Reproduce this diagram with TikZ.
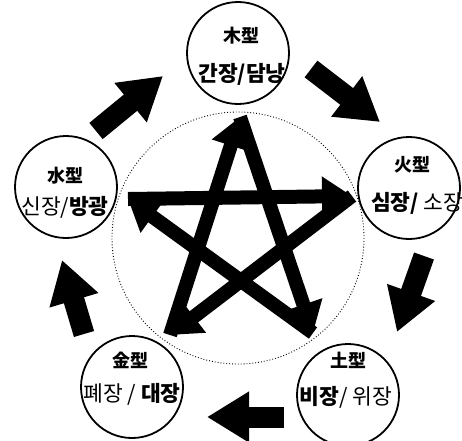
\documentclass[tikz,border=0pt]{standalone}
\usepackage{fontspec}
\newfontfamily\kr{Noto Sans CJK KR}
\usetikzlibrary{arrows.meta}
\begin{document}
\begin{tikzpicture}[x=1pt,y=-1pt,
  elem/.style={circle,draw,fill=white,line width=1.8pt,minimum size=102pt,inner sep=0pt},
  headtxt/.style={inner sep=0pt,font=\kr\bfseries\fontsize{18}{18}\selectfont},
  organ/.style={inner sep=0pt,font=\kr\fontsize{21.5}{22}\selectfont},
  starline/.style={line width=14pt,-{Triangle[length=30pt,width=38pt]}},
  flow/.style={line width=21pt,-{Triangle[length=42pt,width=48pt]}}]
\useasboundingbox (0,0) rectangle (462,440);
% big dotted circle
\draw[dotted,line width=0.9pt] (238,238) circle[radius=126];
% element circles
\node[elem] (wood)  at (238,53)  {};
\node[elem] (fire)  at (409,188) {};
\node[elem] (water) at (66,187)  {};
\node[elem] (metal) at (132,387) {};
\node[elem] (earth) at (348,395) {};
% texts
\node[headtxt] (woodA)  at (241,36)  {木型};
\node[organ]   (woodB)  at (242,74)  {\bfseries 간장/담낭};
\node[headtxt] (fireA)  at (412,165) {火型};
\node[organ,anchor=west] (fireB) at (371,203) {{\bfseries 심장/} 소장};
\node[headtxt] (waterA) at (65,176)  {水型};
\node[organ]   (waterB) at (65,207)  {신장/{\bfseries 방광}};
\node[headtxt] (metalA) at (130,360) {金型};
\node[organ]   (metalB) at (132,394) {폐장 / {\bfseries 대장}};
\node[headtxt] (earthA) at (348,360) {土型};
\node[organ]   (earthB) at (346,397) {{\bfseries 비장}/ 위장};
% star vertices
\coordinate (sT)  at (240,117);
\coordinate (sR)  at (352,196);
\coordinate (sL)  at (128,199);
\coordinate (sBL) at (170,335);
\coordinate (sBR) at (313,333);
\draw[starline] (sL) -- (sR);
\draw[starline] (sR) -- (sBL);
\draw[starline] (sBL) -- (sT);
\draw[starline] (sT) -- (sBR);
\draw[starline] (sBR) -- (sL);
% outer flow arrows
\coordinate (f1a) at (96,131);  \coordinate (f1b) at (163,76);
\coordinate (f2a) at (311,69);  \coordinate (f2b) at (380,122);
\coordinate (f3a) at (424,256); \coordinate (f3b) at (397,332);
\coordinate (f4a) at (284,417); \coordinate (f4b) at (207,417);
\coordinate (f5a) at (84,334);  \coordinate (f5b) at (62,260);
\draw[flow] (f1a) -- (f1b);
\draw[flow] (f2a) -- (f2b);
\draw[flow] (f3a) -- (f3b);
\draw[flow] (f4a) -- (f4b);
\draw[flow] (f5a) -- (f5b);
\end{tikzpicture}
\end{document}
